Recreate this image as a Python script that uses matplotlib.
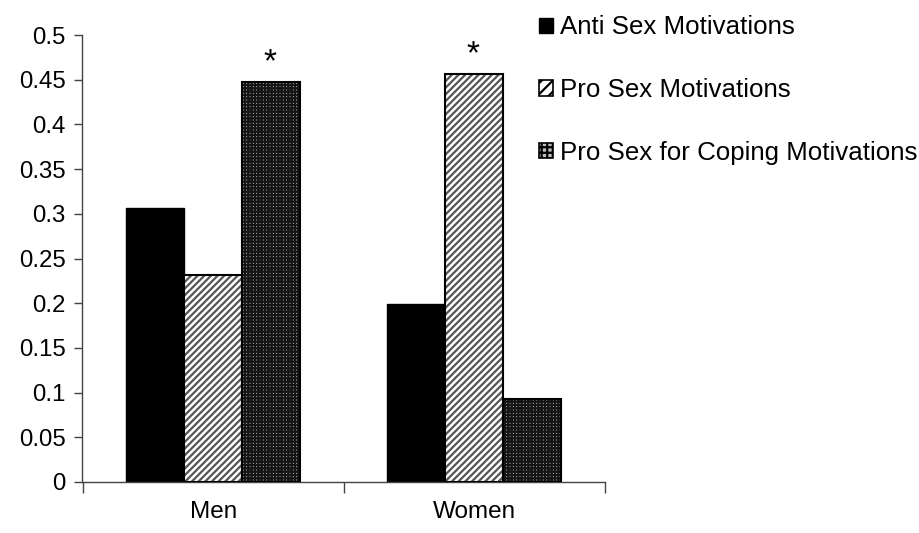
import matplotlib
matplotlib.use("Agg")
import matplotlib.pyplot as plt
from matplotlib.patches import Patch
import numpy as np

plt.rcParams['font.family'] = ['Liberation Sans', 'DejaVu Sans']
plt.rcParams['hatch.linewidth'] = 1.6

categories = ["Men", "Women"]
series = ["Anti Sex Motivations", "Pro Sex Motivations", "Pro Sex for Coping Motivations"]
anti = [0.306, 0.199]
pro = [0.232, 0.456]
coping = [0.447, 0.093]
significant = [(0, 2), (1, 1)]  # (category index, series index) marked with *
yticks = [0, 0.05, 0.1, 0.15, 0.2, 0.25, 0.3, 0.35, 0.4, 0.45, 0.5]
ytick_labels = ["0", "0.05", "0.1", "0.15", "0.2", "0.25", "0.3", "0.35", "0.4", "0.45", "0.5"]

styles = [
    dict(facecolor="black", hatch=None, hatchcolor="black"),
    dict(facecolor="white", hatch="/////", hatchcolor="#555555"),
    dict(facecolor="#bdbdbd", hatch="+++++", hatchcolor="#151515"),
]

fig = plt.figure(figsize=(9.2, 5.33), dpi=100)
ax = fig.add_axes([82.5 / 920, 51 / 533, 522.5 / 920, 447 / 533])

x = np.arange(len(categories))
w = 0.222
values = [anti, pro, coping]
for i, (vals, st) in enumerate(zip(values, styles)):
    xs = x + (i - 1) * w
    if st["hatch"]:
        ax.bar(xs, vals, width=w, color=st["facecolor"], edgecolor=st["hatchcolor"],
               hatch=st["hatch"], linewidth=0, zorder=2)
        ax.bar(xs, vals, width=w, fill=False, edgecolor="black", linewidth=1.5, zorder=3)
    else:
        ax.bar(xs, vals, width=w, color=st["facecolor"], edgecolor="black",
               linewidth=1.0, zorder=2)

for ci, si in significant:
    ax.text(x[ci] + (si - 1) * w - 0.005, values[si][ci] + 0.005, "*", ha="center", va="bottom",
            fontsize=24, color="black")

ax.set_xlim(-0.5, 1.5)
ax.set_ylim(0, 0.5)
ax.set_yticks(yticks)
ax.set_yticklabels(ytick_labels)
ax.set_xticks([-0.5, 0.5, 1.5])
ax.set_xticklabels(["", "", ""])
ax.set_xticks(x, minor=True)
ax.set_xticklabels(categories, minor=True)
ax.tick_params(axis="x", which="major", direction="out", length=8, width=1, color="#444444")
ax.tick_params(axis="x", which="minor", length=0, pad=14, labelsize=17.5)
ax.tick_params(axis="y", direction="out", length=6, width=1, color="#444444", labelsize=17.3, pad=6)
for s in ["top", "right"]:
    ax.spines[s].set_visible(False)
for s in ["left", "bottom"]:
    ax.spines[s].set_color("#444444")
    ax.spines[s].set_linewidth(1)
ax.patch.set_visible(False)

handles = []
for st, name in zip(styles, series):
    if st["hatch"]:
        handles.append(Patch(facecolor=st["facecolor"], edgecolor="black", hatch=st["hatch"][:3],
                              linewidth=1.2, label=name))
    else:
        handles.append(Patch(facecolor="black", edgecolor="black", label=name))
fig.legend(handles=handles, loc="upper left", bbox_to_anchor=(529 / 920, 1 - 5 / 533),
           frameon=False, fontsize=18.6, handlelength=0.53, handleheight=0.53,
           handletextpad=0.28, labelspacing=1.5, borderaxespad=0)

fig.savefig("out.png", dpi=100)
